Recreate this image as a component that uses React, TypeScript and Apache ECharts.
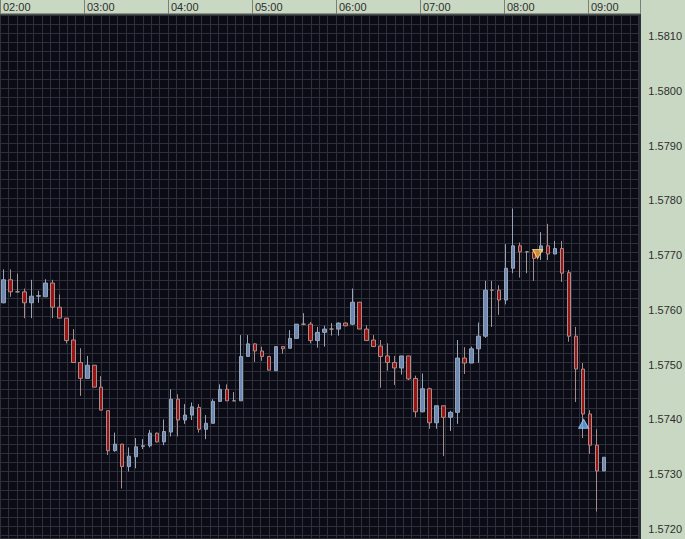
import React, { useEffect, useRef } from "react";
import * as echarts from "echarts";

// Hour labels on the top time scale
const hourLabels = ["02:00", "03:00", "04:00", "05:00", "06:00", "07:00", "08:00", "09:00"];

// Price scale labels
const priceTicks = [1.572, 1.573, 1.574, 1.575, 1.576, 1.577, 1.578, 1.579, 1.58, 1.581];

// 5-minute bars from 02:00 to 09:10 (87 bars)
const openP = [
  1.57613, 1.57655, 1.57633, 1.57633, 1.57613, 1.57625, 1.57624, 1.57649, 1.57605, 1.57585,
  1.57545, 1.57504, 1.57475, 1.57499, 1.57459, 1.57416, 1.57343, 1.57355, 1.57314, 1.57332,
  1.57351, 1.57352, 1.57375, 1.57359, 1.57377, 1.57437, 1.57399, 1.57408, 1.57422, 1.57382,
  1.57393, 1.57433, 1.57455, 1.57434, 1.57434, 1.57515, 1.57538, 1.57525, 1.57515, 1.57489,
  1.57533, 1.5753, 1.57548, 1.57574, 1.57574, 1.57544, 1.57559, 1.57565, 1.57565, 1.57576,
  1.57574, 1.57614, 1.57565, 1.57545, 1.57534, 1.57516, 1.57504, 1.57494, 1.57516, 1.57475,
  1.57414, 1.57456, 1.57394, 1.57425, 1.57404, 1.57413, 1.57512, 1.57503, 1.57529, 1.57552,
  1.57636, 1.57636, 1.57618, 1.57676, 1.57717, 1.57706, 1.57706, 1.57706, 1.57717, 1.57702,
  1.57712, 1.57668, 1.57552, 1.57492, 1.5741, 1.57353, 1.57306,
];
const closeP = [
  1.57655, 1.57633, 1.57633, 1.57613, 1.57625, 1.57626, 1.57649, 1.57605, 1.57585, 1.57544,
  1.57504, 1.57475, 1.57499, 1.57459, 1.57417, 1.57343, 1.57355, 1.57314, 1.57333, 1.5735,
  1.57352, 1.57375, 1.57359, 1.57378, 1.57437, 1.57399, 1.57408, 1.57423, 1.57382, 1.57393,
  1.57433, 1.57455, 1.57434, 1.57434, 1.57515, 1.57538, 1.57525, 1.57515, 1.5749, 1.57533,
  1.57529, 1.57548, 1.57574, 1.57574, 1.57544, 1.57559, 1.57565, 1.57565, 1.57576, 1.57571,
  1.57614, 1.57565, 1.57544, 1.57533, 1.57515, 1.57504, 1.57494, 1.57516, 1.57474, 1.57414,
  1.57456, 1.57394, 1.57425, 1.57404, 1.57413, 1.57512, 1.57503, 1.57529, 1.57552, 1.57636,
  1.57636, 1.57618, 1.57676, 1.57717, 1.57706, 1.57706, 1.57694, 1.57717, 1.57702, 1.57712,
  1.57667, 1.57552, 1.57492, 1.5741, 1.57353, 1.57306, 1.57331,
];
const lowP = [
  1.57612, 1.57624, 1.57632, 1.57585, 1.57585, 1.57613, 1.57624, 1.57585, 1.57585, 1.57539,
  1.57504, 1.57443, 1.57475, 1.57459, 1.57417, 1.57335, 1.57341, 1.57274, 1.57305, 1.57311,
  1.57346, 1.57349, 1.57358, 1.57353, 1.57369, 1.57369, 1.57392, 1.57399, 1.57376, 1.57364,
  1.57393, 1.57433, 1.57434, 1.57434, 1.57434, 1.57515, 1.57505, 1.57507, 1.5749, 1.57489,
  1.5752, 1.5753, 1.57548, 1.57572, 1.57539, 1.57531, 1.57533, 1.57553, 1.57553, 1.5757,
  1.57572, 1.57565, 1.57544, 1.57533, 1.57458, 1.57489, 1.57463, 1.57482, 1.57472, 1.57404,
  1.57413, 1.57383, 1.57383, 1.57333, 1.57379, 1.57392, 1.57483, 1.57503, 1.57503, 1.57549,
  1.57569, 1.57591, 1.5761, 1.57667, 1.57659, 1.57667, 1.57653, 1.57691, 1.57691, 1.57702,
  1.57651, 1.57542, 1.57432, 1.57366, 1.57337, 1.57232, 1.57306,
];
const highP = [
  1.57674, 1.57674, 1.57666, 1.57639, 1.57655, 1.57635, 1.57656, 1.57655, 1.57628, 1.57585,
  1.57565, 1.5753, 1.57516, 1.57499, 1.57479, 1.57416, 1.57376, 1.57355, 1.57349, 1.57366,
  1.57364, 1.57381, 1.57376, 1.574, 1.57455, 1.57446, 1.57428, 1.57431, 1.57428, 1.57408,
  1.57437, 1.57464, 1.57464, 1.5745, 1.57554, 1.57554, 1.57539, 1.57533, 1.57515, 1.57533,
  1.57533, 1.57563, 1.57574, 1.57594, 1.57578, 1.57569, 1.57571, 1.57576, 1.57577, 1.57577,
  1.57639, 1.57614, 1.57572, 1.57554, 1.57545, 1.57539, 1.57516, 1.57516, 1.57516, 1.5748,
  1.57484, 1.57458, 1.57425, 1.57425, 1.57416, 1.57545, 1.57532, 1.57533, 1.57577, 1.57653,
  1.57653, 1.57645, 1.5772, 1.57785, 1.57723, 1.57707, 1.57711, 1.57742, 1.57757, 1.57726,
  1.57726, 1.57673, 1.57569, 1.57503, 1.57417, 1.57382, 1.57331,
];

// Trade arrows: [bar index, price]
const sellArrow = [76.5, 1.57702];
const buyArrow = [83.1, 1.57392];

const TOTAL_SLOTS = 92; // bars + empty right shift

export default function App() {
  const ref = useRef<HTMLDivElement>(null);

  useEffect(() => {
    if (!ref.current) return;
    const chart = echarts.init(ref.current, null, { renderer: "svg" });

    const times: string[] = [];
    for (let i = 0; i < TOTAL_SLOTS; i++) {
      const h = 2 + Math.floor(i / 12);
      const m = (i % 12) * 5;
      times.push(String(h).padStart(2, "0") + ":" + String(m).padStart(2, "0"));
    }
    const candles = openP.map((o, i) => [o, closeP[i], lowP[i], highP[i]]);

    const H = 539;
    const plotW = 640;
    const bandH = 14;
    const meshX = 8.4;
    const meshY = 9.13;
    const meshTop = 15.17;
    const hourPx = 84;
    const barPx = 7;
    const candleLeft = -1;
    // pixel position of the 1.5810 label and pixels per 0.001
    const refY = 36;
    const refPrice = 1.581;
    const pxPerStep = 54.78;
    const visMax = refPrice + ((refY - bandH) / pxPerStep) * 0.001;
    const visMin = refPrice - ((H - refY) / pxPerStep) * 0.001;

    const meshColor = "#2d303b";
    const textColor = "#2e2e2e";
    const font = "'Liberation Sans', Arial, sans-serif";

    chart.setOption({
      animation: false,
      backgroundColor: "#c9d8c2",
      grid: [
        {
          left: 0,
          top: bandH,
          width: plotW,
          height: H - bandH,
          show: true,
          backgroundColor: "#0a0b15",
          borderColor: "#4a4f4a",
          borderWidth: 1,
        },
        { left: 0, top: meshTop, width: plotW, bottom: 0 },
        {
          left: candleLeft,
          width: TOTAL_SLOTS * barPx,
          top: bandH,
          bottom: 0,
        },
      ],
      xAxis: [
        {
          gridIndex: 0,
          type: "value",
          min: 0,
          max: plotW / meshX,
          interval: 1,
          position: "bottom",
          axisLine: { show: false },
          axisTick: { show: false },
          axisLabel: { show: false },
          splitLine: { show: true, lineStyle: { color: meshColor, width: 1 } },
        },
        {
          gridIndex: 0,
          type: "value",
          min: 0,
          max: plotW / hourPx,
          interval: 1,
          position: "top",
          axisLine: { show: true, lineStyle: { color: "#4a4f4a", width: 1 } },
          axisTick: { show: true, length: bandH, lineStyle: { color: "#77807a", width: 1 } },
          axisLabel: {
            show: true,
            formatter: (v: number) => (Number.isInteger(v) && hourLabels[v] ? hourLabels[v] : ""),
            align: "left",
            verticalAlign: "middle",
            padding: [0, 0, 0, 3],
            margin: 7,
            color: textColor,
            fontSize: 11,
            fontFamily: font,
          },
          splitLine: { show: false },
        },
        { gridIndex: 1, type: "value", min: 0, max: 1, show: false },
        {
          gridIndex: 2,
          type: "category",
          data: times,
          boundaryGap: true,
          show: false,
        },
        { gridIndex: 2, type: "value", min: -0.5, max: TOTAL_SLOTS - 0.5, show: false },
      ],
      yAxis: [
        { gridIndex: 0, type: "value", min: 0, max: 1, show: false },
        {
          gridIndex: 1,
          type: "value",
          inverse: true,
          min: 0,
          max: (H - meshTop) / meshY,
          interval: 1,
          axisLine: { show: false },
          axisTick: { show: false },
          axisLabel: { show: false },
          splitLine: { show: true, lineStyle: { color: meshColor, width: 1 } },
        },
        {
          gridIndex: 2,
          type: "value",
          position: "right",
          min: visMin,
          max: visMax,
          axisLine: { show: false },
          axisTick: { show: false },
          splitLine: { show: false },
          axisLabel: {
            customValues: priceTicks,
            margin: 6,
            color: textColor,
            fontSize: 11,
            fontFamily: font,
            formatter: (v: number) => v.toFixed(4),
          },
        },
      ],
      series: [
        {
          type: "candlestick",
          xAxisIndex: 3,
          yAxisIndex: 2,
          data: candles,
          barWidth: 4,
          itemStyle: {
            color: "#6c89b3",
            color0: "#9a1313",
            borderColor: "#98a5b8",
            borderColor0: "#a88c8c",
            borderColorDoji: "#9c9c9c",
            borderWidth: 1,
          },
        },
        {
          type: "scatter",
          xAxisIndex: 4,
          yAxisIndex: 2,
          data: [sellArrow],
          symbol: "triangle",
          symbolRotate: 180,
          symbolSize: [10, 9],
          itemStyle: { color: "#f2aa3c", borderColor: "#ffd98a", borderWidth: 1 },
          z: 5,
        },
        {
          type: "scatter",
          xAxisIndex: 4,
          yAxisIndex: 2,
          data: [buyArrow],
          symbol: "triangle",
          symbolSize: [10, 9],
          itemStyle: { color: "#64b0f0", borderColor: "#a8d4ff", borderWidth: 1 },
          z: 5,
        },
      ],
    });

    return () => chart.dispose();
  }, []);

  return (
    <div
      ref={ref}
      style={{ position: "absolute", left: 0, top: 0, width: 685, height: 539 }}
    />
  );
}
